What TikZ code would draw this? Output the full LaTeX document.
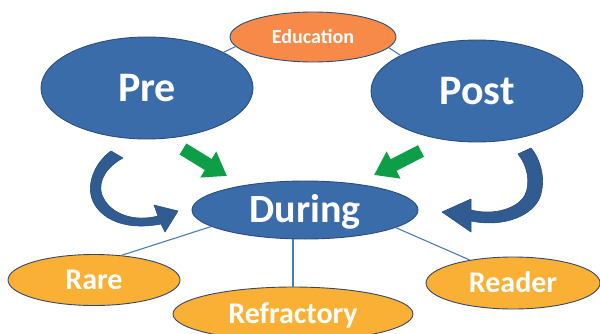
\documentclass[tikz,border=0pt]{standalone}
\usepackage{fontspec}
\setmainfont{Carlito}
\usetikzlibrary{shapes.geometric,arrows.meta}
\definecolor{bluefill}{RGB}{58,108,170}
\definecolor{blueedge}{RGB}{40,78,126}
\definecolor{orangefill}{RGB}{247,138,72}
\definecolor{yellowfill}{RGB}{250,176,52}
\definecolor{darkedge}{RGB}{52,72,104}
\definecolor{greenfill}{RGB}{14,158,72}
\definecolor{curvefill}{RGB}{48,92,146}
\definecolor{linkblue}{RGB}{74,124,184}
\begin{document}
\begin{tikzpicture}[x=1pt,y=-1pt,
  oval/.style={ellipse, inner sep=0pt, text=white, line width=0.9pt, text depth=0pt, align=center},
  bigblue/.style={oval, fill=bluefill, draw=blueedge, font=\bfseries\fontsize{42}{42}\selectfont, text height=27pt},
  midblue/.style={oval, fill=bluefill, draw=blueedge, font=\bfseries\fontsize{40}{40}\selectfont, text height=25.8pt},
  eduoval/.style={oval, fill=orangefill, draw=blueedge, font=\bfseries\fontsize{20}{20}\selectfont, text height=12.9pt},
  yeloval/.style={oval, fill=yellowfill, draw=darkedge, font=\bfseries\fontsize{30}{30}\selectfont, text height=19.3pt},
  link/.style={draw=linkblue, line width=1.1pt},
  greenarrow/.style={draw=greenfill, line width=13pt, -{Triangle[length=22pt,width=29pt]}},
  curvearrow/.style={fill=curvefill, draw=blueedge, line width=0.6pt, line join=round}
]
\useasboundingbox (0,0) rectangle (600,333);

% ovals
\node[eduoval, minimum width=166pt, minimum height=50pt] (edu) at (313,37) {Education};
\node[bigblue, minimum width=212pt, minimum height=102pt] (pre) at (147,88) {Pre};
\node[bigblue, minimum width=212pt, minimum height=102pt] (post) at (477,91) {Post};
\node[midblue, minimum width=226pt, minimum height=58pt] (during) at (305,210) {During};
\node[yeloval, minimum width=172pt, minimum height=51pt] (rare) at (94,280) {Rare};
\node[yeloval, minimum width=240pt, minimum height=54pt] (refr) at (293,314) {Refractory};
\node[yeloval, minimum width=174pt, minimum height=52pt] (reader) at (513,283) {Reader};

% links
\draw[link] (pre.25) -- (edu.187);
\draw[link] (post.155) -- (edu.-8);
\draw[link] (during.190) -- (rare.42);
\draw[link] (refr.north) -- (refr.north |- during.south);
\draw[link] (during.-11) -- (reader.152.5);

% green block arrows
\coordinate (g1s) at (183,149);
\coordinate (g1e) at (227,176);
\coordinate (g2s) at (421,151);
\coordinate (g2e) at (374,175);
\draw[greenarrow] (g1s) -- (g1e);
\draw[greenarrow] (g2s) -- (g2e);

% curved arrows
\filldraw[curvearrow] (111,151) .. controls (96,162) and (88,180) .. (91,195)
  .. controls (95,215) and (120,232) .. (161,224) -- (165,232) -- (178,211) -- (154,205) -- (158,216)
  .. controls (135,222) and (110,215) .. (102,195)
  .. controls (97,180) and (108,166) .. (123,158) -- cycle;
\filldraw[curvearrow] (531,148) .. controls (541,160) and (546,180) .. (540,197)
  .. controls (533,215) and (505,228) .. (471,221) -- (471,232) -- (442,212) -- (471,199) -- (471,210)
  .. controls (495,216) and (518,208) .. (525,195)
  .. controls (531,182) and (527,165) .. (518,154) -- cycle;
\end{tikzpicture}
\end{document}
